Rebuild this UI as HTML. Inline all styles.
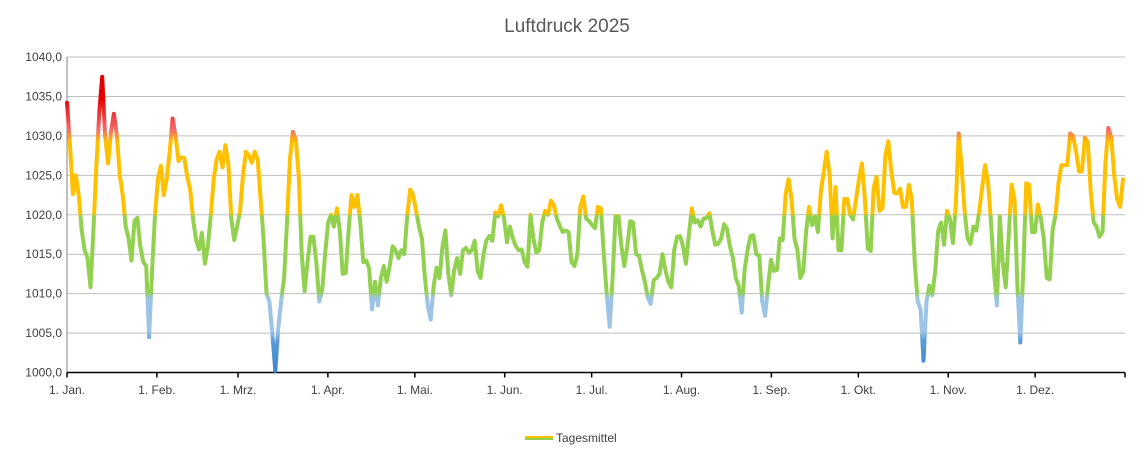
<!DOCTYPE html>
<html><head><meta charset="utf-8"><style>
body{margin:0;background:#fff;font-family:"Liberation Sans",sans-serif}
svg{display:block}
</style></head><body>
<svg width="1145" height="459" xmlns="http://www.w3.org/2000/svg" id="chart">
<defs>
<linearGradient id="lg" gradientUnits="userSpaceOnUse" x1="0" y1="372.5" x2="0" y2="57">
<stop offset="0" stop-color="#3d85d0"/>
<stop offset="0.10" stop-color="#5b9bd5"/>
<stop offset="0.13" stop-color="#9dc3e6"/>
<stop offset="0.235" stop-color="#9dc3e6"/>
<stop offset="0.255" stop-color="#92d050"/>
<stop offset="0.495" stop-color="#92d050"/>
<stop offset="0.505" stop-color="#ffc000"/>
<stop offset="0.73" stop-color="#ffc000"/>
<stop offset="0.77" stop-color="#f26d6d"/>
<stop offset="0.87" stop-color="#e60000"/>
<stop offset="1" stop-color="#e60000"/>
</linearGradient>
</defs>
<text x="567" y="32" text-anchor="middle" font-size="19" fill="#595959">Luftdruck 2025</text>
<g id="grid"></g><g id="yl"></g><g id="xl"></g>
<path id="line" fill="none" stroke="url(#lg)" stroke-width="4" stroke-linejoin="round" stroke-linecap="round"/>
<g>
<rect x="525" y="436" width="28" height="2" fill="#ffc000"/>
<rect x="525" y="438" width="28" height="2" fill="#92d050"/>
<text x="556" y="442" font-size="12" fill="#404040">Tagesmittel</text>
</g>
</svg>
<script>
const yTicks=[1000,1005,1010,1015,1020,1025,1030,1035,1040];
const monthLabels=["1. Jan.","1. Feb.","1. Mrz.","1. Apr.","1. Mai.","1. Jun.","1. Jul.","1. Aug.","1. Sep.","1. Okt.","1. Nov.","1. Dez."];
const monthDays=[0,31,59,90,120,151,181,212,243,273,304,334];
const values=[1034.2,1029,1022.6,1025,1022.5,1018,1015.5,1014.5,1010.8,1018,1026,1033,1037.5,1030,1026.5,1030.5,1032.8,1030,1025,1022.5,1018.5,1017,1014.2,1019.2,1019.6,1016,1014,1013.5,1004.5,1013,1020,1024.5,1026.2,1022.5,1024.5,1028,1032.2,1030,1026.8,1027.3,1027.2,1024.8,1023.2,1019.4,1016.8,1015.6,1017.7,1013.8,1016,1019.8,1024.5,1027,1028,1026,1028.8,1026.5,1019.5,1016.8,1018.5,1020.5,1025,1028,1027.5,1026.6,1028,1027,1022,1017,1010,1009,1005,1000.2,1005.5,1009,1012,1019,1027,1030.5,1029.5,1025,1015,1010.3,1014,1017.2,1017.2,1014,1009,1010.5,1015,1019,1020,1018.5,1020.8,1018,1012.5,1012.6,1018,1022.5,1021,1022.5,1019,1014,1014.2,1013.2,1008,1011.5,1008.5,1012,1013.5,1011.5,1013.5,1016,1015.5,1014.5,1015.5,1015,1020,1023.2,1022.5,1020.5,1018.5,1017,1012,1008.5,1006.7,1011,1013.3,1012,1016,1018,1012.5,1009.8,1013,1014.5,1012.5,1015.5,1015.8,1015.2,1015.5,1016.7,1012.8,1012,1015,1016.8,1017.3,1016.7,1020.3,1019.8,1021.2,1019.5,1016.5,1018.5,1017,1016,1015.5,1015.6,1014,1013.4,1020,1017,1015.2,1015.5,1019,1020.5,1020,1021.8,1021.2,1019.5,1018.6,1017.8,1018,1017.8,1014,1013.5,1015,1021,1022.3,1019.5,1019.2,1018.7,1018.3,1021,1020.8,1015,1010,1005.8,1012,1019.8,1019.8,1016,1013.5,1016,1019.2,1019,1015,1014.8,1013,1011.5,1009.5,1008.7,1011.7,1012,1012.5,1015,1013,1011.5,1010.8,1015.5,1017.2,1017.3,1016,1013.8,1017.5,1020.8,1019,1019.3,1018.5,1019.5,1019.6,1020.2,1018,1016.2,1016.3,1017,1018.8,1018.2,1016,1014.5,1012,1011,1007.6,1013,1015.5,1017.3,1017.4,1015,1014.8,1009,1007.2,1011,1014.3,1012.9,1013,1017,1016.8,1022.7,1024.5,1022,1017,1015.5,1012,1012.8,1018,1021,1018.7,1019.8,1017.8,1023,1025.5,1028,1025,1017,1023.5,1015.5,1015.5,1022,1022,1020,1019.4,1022,1024.5,1026.5,1022,1015.7,1015.4,1023.5,1024.8,1020.5,1020.8,1027.5,1029.3,1025.5,1022.8,1022.7,1023.3,1021,1021,1023.8,1022,1014,1009,1008,1001.5,1009,1011,1009.8,1013,1018,1019,1016.2,1020.5,1019.5,1016.4,1021.3,1030.3,1026,1020.5,1017,1016.3,1018.5,1018,1020.5,1023.5,1026.3,1024,1019,1013,1008.5,1019.8,1014,1010.8,1017,1023.8,1022,1011,1003.8,1013,1024,1023.8,1017.8,1017.8,1021.3,1019.5,1017,1012,1011.8,1018,1020,1024,1026.3,1026.3,1026.3,1030.3,1030,1028,1025.5,1025.5,1029.8,1029.2,1023,1019,1018.5,1017.2,1017.8,1026.5,1031,1029.8,1025,1022,1021,1024.5];
const NS="http://www.w3.org/2000/svg";
const X0=67,X1=1125,Y0=372.5,Y1=57;
function yS(v){return Y0-(v-1000)/40*(Y0-Y1);}
function xDay(d){return X0+d*(X1-X0)/365;}
function xIdx(i){return X0+i*(1123-X0)/(values.length-1);}
const grid=document.getElementById('grid'),yl=document.getElementById('yl'),xl=document.getElementById('xl');
yTicks.forEach(t=>{
 if(t>1000){const l=document.createElementNS(NS,'line');
 l.setAttribute('x1',X0);l.setAttribute('x2',X1);l.setAttribute('y1',yS(t));l.setAttribute('y2',yS(t));
 l.setAttribute('stroke','#bfbfbf');l.setAttribute('stroke-width','1');
 
 
 grid.appendChild(l);}
 const tx=document.createElementNS(NS,'text');
 tx.setAttribute('x',62);tx.setAttribute('y',yS(t)+4);tx.setAttribute('text-anchor','end');
 tx.setAttribute('font-size','12');tx.setAttribute('fill','#404040');
 tx.textContent=t.toFixed(1).replace('.',',');
 
 
 yl.appendChild(tx);
});
const ya=document.createElementNS(NS,'line');
ya.setAttribute('x1',X0);ya.setAttribute('x2',X0);ya.setAttribute('y1',Y1);ya.setAttribute('y2',Y0);ya.setAttribute('stroke','#808080');


grid.appendChild(ya);
const xa=document.createElementNS(NS,'line');
xa.setAttribute('x1',X0);xa.setAttribute('x2',X1);xa.setAttribute('y1',Y0);xa.setAttribute('y2',Y0);xa.setAttribute('stroke','#000');xa.setAttribute('stroke-width','1.5');


grid.appendChild(xa);
monthDays.concat([365]).forEach((d,i)=>{
 const tk=document.createElementNS(NS,'line');
 tk.setAttribute('x1',xDay(d));tk.setAttribute('x2',xDay(d));tk.setAttribute('y1',Y0);tk.setAttribute('y2',Y0+5);tk.setAttribute('stroke','#000');tk.setAttribute('stroke-width','1.5');
 
 
 xl.appendChild(tk);
 if(i<monthLabels.length){
 const tx=document.createElementNS(NS,'text');
 tx.setAttribute('x',xDay(d));tx.setAttribute('y',394);tx.setAttribute('text-anchor','middle');
 tx.setAttribute('font-size','12');tx.setAttribute('fill','#404040');
 tx.textContent=monthLabels[i];
 
 
 xl.appendChild(tx);}
});
document.getElementById('line').setAttribute('d',values.map((v,i)=>(i?'L':'M')+xIdx(i).toFixed(1)+' '+yS(v).toFixed(1)).join(' '));
</script>
</body></html>
